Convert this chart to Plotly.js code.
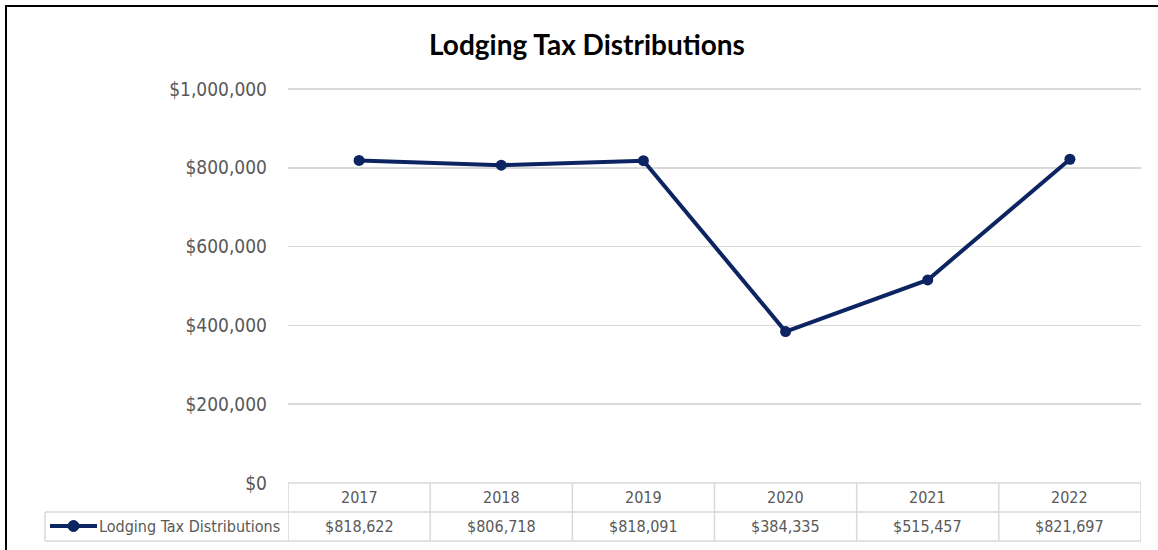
<!DOCTYPE html>
<html>
<head>
<meta charset="utf-8">
<script src="https://cdn.plot.ly/plotly-3.0.1.min.js"></script>
<style>html,body{margin:0;padding:0;background:#fff;}#chart{width:1158px;height:550px;}</style>
</head>
<body>
<div id="chart"></div>
<script>
const categories = ['2017', '2018', '2019', '2020', '2021', '2022'];
const seriesName = 'Lodging Tax Distributions';
const values = [818622, 806718, 818091, 384335, 515457, 821697];
const valueLabels = ['$818,622', '$806,718', '$818,091', '$384,335', '$515,457', '$821,697'];
const chartTitle = 'Lodging Tax Distributions';

const W = 1158, H = 550;
const L = 288, R = 1141, T = 85, B = 483;
const yTop = 1000000 * (B - T) / 394;
const pw = R - L, ph = B - T;
const px = x => (x - L) / pw;
const py = y => (B - y) / ph;

const navy = '#0c2461';
const gridC = '#d9d9d9';
const txtC = '#595959';
const narrow = '"Liberation Sans Narrow", "Arial Narrow", "DejaVu Sans Condensed", sans-serif';

const shapes = [];
const annotations = [];
// outer frame
shapes.push({type:'rect', xref:'paper', yref:'paper', x0:px(6), x1:px(1170), y0:py(6), y1:py(560), line:{color:'#000', width:2}, fillcolor:'rgba(0,0,0,0)'});
// table horizontal lines
shapes.push({type:'line', xref:'paper', yref:'paper', x0:px(L), x1:px(R), y0:py(483), y1:py(483), line:{color:gridC, width:1.5}});
shapes.push({type:'line', xref:'paper', yref:'paper', x0:px(45), x1:px(R), y0:py(512), y1:py(512), line:{color:gridC, width:1.5}});
shapes.push({type:'line', xref:'paper', yref:'paper', x0:px(45), x1:px(R), y0:py(541), y1:py(541), line:{color:gridC, width:1.5}});
shapes.push({type:'line', xref:'paper', yref:'paper', x0:px(45), x1:px(45), y0:py(512), y1:py(541), line:{color:gridC, width:1.5}});
for (let i = 0; i <= categories.length; i++) {
  shapes.push({type:'line', xref:'x', yref:'paper', x0:i-0.5, x1:i-0.5, y0:py(483), y1:py(541), line:{color:gridC, width:1.5}});
}
// legend key
shapes.push({type:'line', xref:'paper', yref:'paper', x0:px(50), x1:px(97), y0:py(526), y1:py(526), line:{color:navy, width:4}});
shapes.push({type:'circle', xref:'paper', yref:'paper', x0:px(68), x1:px(79), y0:py(520.5), y1:py(531.5), line:{color:navy, width:1}, fillcolor:navy});
annotations.push({xref:'paper', yref:'paper', x:px(97), y:py(526), text:seriesName, showarrow:false, xanchor:'left', yanchor:'middle', font:{family:narrow, size:16, color:txtC}});

categories.forEach((c, i) => {
  annotations.push({xref:'x', yref:'paper', x:i, y:py(497), text:c, showarrow:false, xanchor:'center', yanchor:'middle', font:{family:narrow, size:16, color:txtC}});
  annotations.push({xref:'x', yref:'paper', x:i, y:py(526), text:valueLabels[i], showarrow:false, xanchor:'center', yanchor:'middle', font:{family:narrow, size:16, color:txtC}});
});

const trace = {
  x: categories, y: values, name: seriesName, type:'scatter', mode:'lines+markers',
  line:{color:navy, width:4}, marker:{color:navy, size:11}, showlegend:false, cliponaxis:false
};

const layout = {
  width: W, height: H,
  margin:{l:L, r:W-R, t:T, b:H-B, pad:0},
  paper_bgcolor:'#fff', plot_bgcolor:'#fff',
  title:{text:'<b>'+chartTitle+'</b>', x:587/W, xanchor:'center', y:1-45/H, yanchor:'middle', font:{family:'Lato, "Open Sans", sans-serif', size:28, color:'#000'}},
  xaxis:{type:'category', range:[-0.5, categories.length-0.5], showticklabels:false, showgrid:false, zeroline:false, showline:false, ticks:''},
  yaxis:{range:[0, yTop], tick0:0, dtick:200000, tickprefix:'$', tickformat:',d', showgrid:true, gridcolor:gridC, gridwidth:1.5, zeroline:false, showline:false, ticks:'', ticklabelstandoff:20, tickfont:{family:narrow, size:19, color:txtC}},
  shapes: shapes,
  annotations: annotations,
  showlegend:false
};

Plotly.newPlot('chart', [trace], layout, {staticPlot:true, displayModeBar:false});
</script>
</body>
</html>
